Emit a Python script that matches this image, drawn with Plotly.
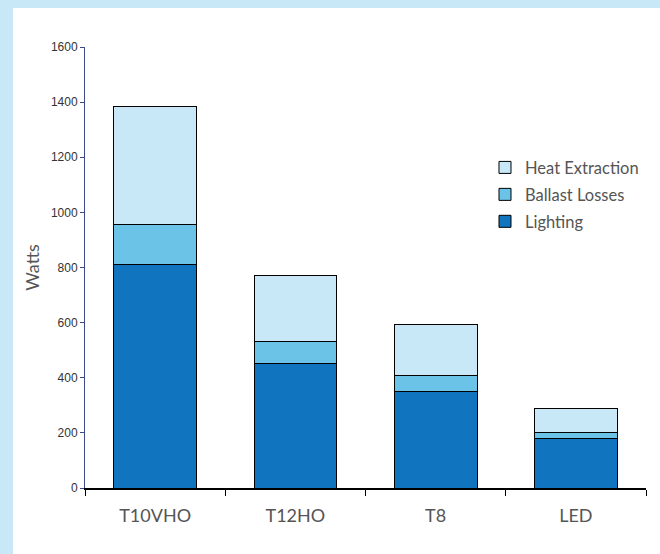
import plotly.graph_objects as go

categories = ["T10VHO", "T12HO", "T8", "LED"]
lighting = [810, 450, 350, 180]
ballast_losses = [145, 80, 58, 20]
heat_extraction = [428, 240, 185, 90]
y_ticks = [0, 200, 400, 600, 800, 1000, 1200, 1400, 1600]

C_LIGHT = "#1075BE"
C_BALLAST = "#6BC4E8"
C_HEAT = "#C8E8F8"
BG = "#C8E8F8"
TEXT_FONT = "Lato, 'Open Sans', sans-serif"

fig = go.Figure()
for rank, (name, vals, col) in zip([3, 2, 1], [("Lighting", lighting, C_LIGHT),
                                               ("Ballast Losses", ballast_losses, C_BALLAST),
                                               ("Heat Extraction", heat_extraction, C_HEAT)]):
    fig.add_trace(go.Bar(
        x=categories, y=vals, name=name, legendgroup=name, legendrank=rank,
        marker=dict(color=col, line=dict(color="black", width=1)),
        width=0.59,
    ))

fig.update_layout(
    barmode="stack",
    width=660, height=554,
    margin=dict(l=85, r=14, t=47, b=66),
    paper_bgcolor=BG,
    plot_bgcolor="white",
    showlegend=True,
    legend=dict(
        x=0.713, y=0.766, xanchor="left", yanchor="top",
        traceorder="grouped",
        bgcolor="rgba(0,0,0,0)",
        font=dict(family=TEXT_FONT, size=16.5, color="#555555"),
        itemwidth=30,
        tracegroupgap=2.5,
    ),
    xaxis=dict(
        type="category",
        range=[-0.5, 3.5],
        showline=True, linecolor="black", linewidth=1.5,
        ticks="outside", tickson="boundaries", ticklen=6, tickcolor="black",
        tickfont=dict(family=TEXT_FONT, size=18, color="#555555"),
        ticklabelstandoff=11,
        showgrid=False,
    ),
    yaxis=dict(
        range=[0, 1600],
        tickvals=y_ticks,
        showline=True, linecolor="#3A4A8A", linewidth=1,
        ticks="outside", ticklen=4, tickcolor="#3A4A8A",
        tickfont=dict(family="Liberation Sans, Arial, sans-serif", size=12, color="#333333"),
        showgrid=False, zeroline=False,
        title=dict(text="Watts", font=dict(family=TEXT_FONT, size=18, color="#555555"), standoff=6),
    ),
    shapes=[dict(
        type="rect", xref="paper", yref="paper",
        x0=(13 - 85) / 561, x1=1.2, y0=-0.3, y1=(488 - 8) / 441,
        fillcolor="white", line=dict(width=0), layer="below",
    )],
)

fig.write_html("out.html", config={"displayModeBar": False},
               post_script="document.body.style.margin='0';document.body.style.overflow='hidden';")
